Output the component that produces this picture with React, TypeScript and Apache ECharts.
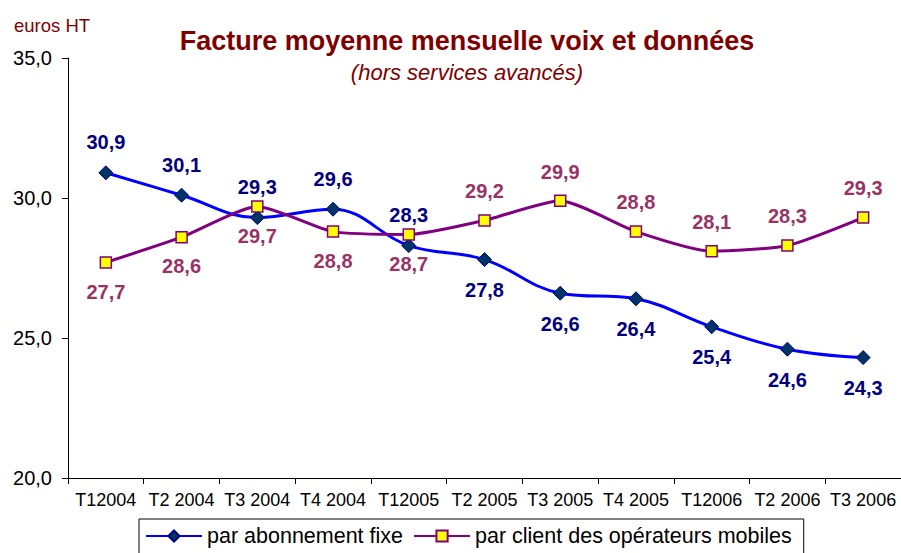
import React, { useEffect, useRef } from "react";
import * as echarts from "echarts";

const categories = ["T12004", "T2 2004", "T3 2004", "T4 2004", "T12005", "T2 2005", "T3 2005", "T4 2005", "T12006", "T2 2006", "T3 2006"];
const fixeValues = [30.9, 30.1, 29.3, 29.6, 28.3, 27.8, 26.6, 26.4, 25.4, 24.6, 24.3];
const mobileValues = [27.7, 28.6, 29.7, 28.8, 28.7, 29.2, 29.9, 28.8, 28.1, 28.3, 29.3];
const fixeLabelPos = ["top", "top", "top", "top", "top", "bottom", "bottom", "bottom", "bottom", "bottom", "bottom"];
const mobileLabelPos = ["bottom", "bottom", "bottom", "bottom", "bottom", "top", "top", "top", "top", "top", "top"];
const seriesNames = ["par abonnement fixe", "par client des opérateurs mobiles"];
const yTicks = { min: 20, max: 35, interval: 5 };

const fmt = (v: number) => v.toFixed(1).replace(".", ",");

export default function App() {
  const ref = useRef<HTMLDivElement>(null);
  useEffect(() => {
    if (!ref.current) return;
    const chart = echarts.init(ref.current, undefined, { renderer: "svg" });
    const font = "Arial, 'Liberation Sans', sans-serif";
    chart.setOption({
      animation: false,
      backgroundColor: "#ffffff",
      textStyle: { fontFamily: font },
      title: [
        {
          text: "Facture moyenne mensuelle voix et données",
          left: 462,
          top: 22,
          textAlign: "center",
          textStyle: { color: "#800000", fontSize: 27, fontWeight: "bold", fontFamily: font },
        },
        {
          text: "(hors services avancés)",
          left: 462,
          top: 56,
          textAlign: "center",
          textStyle: { color: "#800000", fontSize: 22, fontStyle: "italic", fontWeight: "normal", fontFamily: font },
        },
        {
          text: "euros HT",
          left: 9,
          top: 11,
          textStyle: { color: "#800000", fontSize: 18.5, fontWeight: "normal", fontFamily: font },
        },
      ],
      grid: { left: 68, top: 58, width: 836, height: 420, containLabel: false },
      legend: {
        top: 519,
        left: 139,
        padding: [6, 12, 8, 6],
        borderColor: "#000000",
        borderWidth: 1,
        itemWidth: 56,
        itemHeight: 14,
        itemGap: 10,
        textStyle: { color: "#000000", fontSize: 21.5, fontFamily: font },
        data: seriesNames,
      },
      xAxis: {
        type: "category",
        data: categories,
        boundaryGap: true,
        axisLine: { lineStyle: { color: "#000000", width: 1 } },
        axisTick: { show: true, length: 6, lineStyle: { color: "#000000" } },
        axisLabel: { color: "#000000", fontSize: 18, margin: 13, interval: 0, fontFamily: font },
        splitLine: { show: false },
      },
      yAxis: {
        type: "value",
        min: yTicks.min,
        max: yTicks.max,
        interval: yTicks.interval,
        axisLine: { show: true, lineStyle: { color: "#000000", width: 1 } },
        axisTick: { show: true, length: 6, lineStyle: { color: "#000000" } },
        axisLabel: { color: "#000000", fontSize: 20, margin: 16, formatter: (v: number) => fmt(v), fontFamily: font },
        splitLine: { show: false },
      },
      series: [
        {
          name: seriesNames[0],
          type: "line",
          smooth: 0.4,
          data: fixeValues.map((v, i) => ({ value: v, label: { position: fixeLabelPos[i] } })),
          lineStyle: { color: "#0000ff", width: 3 },
          itemStyle: { color: "#003366", borderColor: "#000080", borderWidth: 1 },
          symbol: "diamond",
          symbolSize: 14,
          label: {
            show: true,
            distance: 13,
            color: "#000080",
            fontSize: 20,
            fontWeight: "bold",
            fontFamily: font,
            formatter: (p: any) => fmt(p.value),
          },
          z: 3,
        },
        {
          name: seriesNames[1],
          type: "line",
          smooth: 0.2,
          data: mobileValues.map((v, i) => ({ value: v, label: { position: mobileLabelPos[i] } })),
          lineStyle: { color: "#800080", width: 3 },
          itemStyle: { color: "#ffff00", borderColor: "#800080", borderWidth: 1.5 },
          symbol: "rect",
          symbolSize: 11,
          label: {
            show: true,
            distance: 13,
            color: "#993366",
            fontSize: 20,
            fontWeight: "bold",
            fontFamily: font,
            formatter: (p: any) => fmt(p.value),
          },
          z: 4,
        },
      ],
    });
    return () => chart.dispose();
  }, []);
  return <div ref={ref} style={{ width: 901, height: 553, position: "absolute", left: 0, top: 0 }} />;
}
